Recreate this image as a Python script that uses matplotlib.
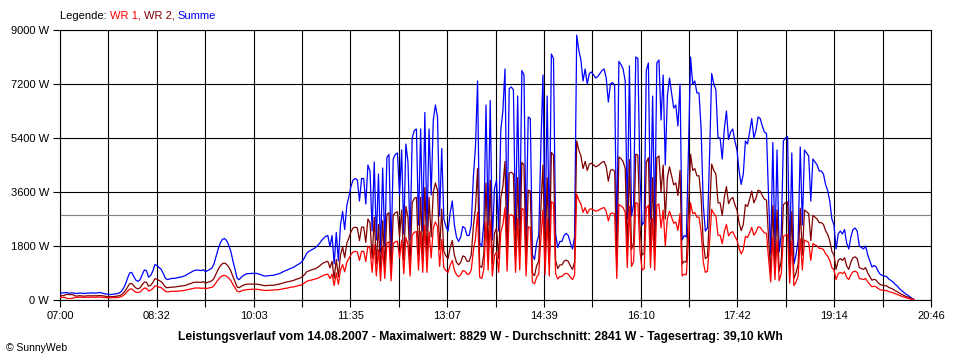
import matplotlib.pyplot as plt
import numpy as np

plt.rcParams['font.family'] = ['Liberation Sans', 'DejaVu Sans']

# Leistung alle 2 Minuten ab 07:00 (W)
summe = [
    200, 240, 240, 250, 230, 230, 240, 220, 220, 230,
    230, 220, 220, 230, 230, 240, 230, 230, 240, 250,
    230, 210, 200, 190, 180, 190, 200, 210, 230, 280,
    380, 520, 720, 900, 920, 780, 660, 620, 680, 850,
    1000, 980, 760, 820, 960, 1180, 1150, 1080, 1020, 880,
    720, 680, 700, 720, 720, 730, 750, 760, 780, 800,
    840, 880, 920, 960, 990, 1000, 990, 980, 1010, 940,
    980, 1020, 1060, 1200, 1450, 1700, 1900, 2020, 2050, 1980,
    1830, 1620, 1300, 1020, 720, 680, 760, 820, 860, 880,
    880, 890, 880, 890, 870, 850, 820, 800, 800, 810,
    820, 820, 840, 860, 880, 910, 950, 980, 1010, 1040,
    1070, 1100, 1150, 1190, 1230, 1300, 1420, 1560, 1620, 1660,
    1700, 1740, 1800, 1880, 1980, 2060, 2120, 2150, 1780, 2150,
    1200, 2250, 1300, 2500, 2950, 2350, 3150, 3450, 3800, 4000,
    4050, 4000, 3300, 4050, 4050, 3200, 4500, 4300, 2300, 4600,
    2000, 4200, 1600, 4400, 1800, 4750, 4850, 1600, 4700, 4850,
    4900, 3500, 5000, 2200, 5200, 4600, 2000, 5400, 5650, 5700,
    2500, 5700, 2300, 6250, 2300, 5700, 3500, 6000, 6500, 6100,
    2800, 5050, 2700, 2450, 2300, 2900, 3300, 2500, 2100, 1950,
    2100, 2450, 2400, 2150, 2150, 2500, 4100, 5100, 7300, 1900,
    1800, 2600, 6500, 2500, 6650, 2000, 3700, 4000, 2300, 5650,
    6300, 7700, 2400, 7050, 7100, 7000, 2300, 6800, 2500, 7650,
    7500, 2000, 6100, 6050, 1500, 1350, 1900, 2150, 5100, 7500,
    2100, 6800, 2000, 8200, 8050, 2200, 1750, 1950, 1950, 2150,
    2220, 2150, 1900, 1700, 2100, 8829, 8330, 8000, 7300, 7700,
    7200, 7550, 7600, 7500, 7400, 7450, 7550, 7650, 7700, 7400,
    6600, 7200, 7250, 7150, 1800, 7950, 7850, 7700, 7300, 2700,
    7800, 2800, 3200, 8100, 8050, 4100, 2500, 2600, 7650, 7900,
    2700, 6800, 2500, 7900, 8000, 6000, 7500, 4500, 6800, 7400,
    6900, 6400, 6500, 5800, 7200, 2000, 2150, 2100, 5000, 8100,
    7200, 7300, 6900, 6900, 5700, 3200, 2300, 2400, 4800, 7550,
    7200, 7000, 5400, 5400, 4700, 5700, 6300, 5350, 5600, 5700,
    5300, 5000, 4300, 3850, 4200, 5300, 5200, 5600, 6050, 5400,
    5650, 6100, 6050, 5800, 5600, 5550, 3400, 1500, 5250, 1700,
    5000, 1600, 2200, 5300, 5400, 5450, 1400, 4900, 1200, 1500,
    2000, 5100, 2500, 5000, 4900, 4800, 3300, 4700, 4600, 4500,
    4300, 4300, 4200, 3850, 3650, 3300, 2700, 2500, 1700, 2200,
    2300, 2200, 2350, 1900, 1700, 2100, 2350, 2400, 2300, 1800,
    1750, 1700, 1800, 1500, 1300, 1100, 1150, 1100, 950, 850,
    820, 800, 780, 700, 650, 600, 520, 470, 380, 320,
    260, 200, 160, 110, 50, 20,
]

wr1 = [
    80, 90, 90, 60, 50, 50, 60, 80, 90, 90,
    90, 90, 90, 90, 90, 100, 90, 90, 100, 100,
    90, 80, 80, 80, 70, 80, 80, 80, 90, 110,
    150, 210, 290, 360, 370, 310, 260, 250, 270, 340,
    400, 390, 300, 330, 380, 470, 460, 430, 410, 350,
    290, 270, 280, 290, 290, 290, 300, 300, 310, 320,
    340, 350, 370, 380, 400, 400, 400, 390, 400, 380,
    390, 410, 420, 480, 580, 680, 760, 810, 820, 790,
    730, 650, 520, 410, 290, 270, 300, 330, 340, 350,
    350, 360, 350, 360, 350, 340, 330, 320, 320, 320,
    330, 330, 340, 340, 350, 360, 380, 390, 400, 420,
    430, 440, 460, 480, 490, 520, 570, 620, 650, 660,
    680, 700, 720, 750, 790, 820, 850, 860, 710, 860,
    480, 900, 520, 1000, 1180, 940, 1260, 1380, 1520, 1600,
    1620, 1600, 1320, 1620, 1620, 1280, 1800, 1720, 920, 1840,
    800, 1680, 640, 1760, 720, 1900, 1940, 640, 1880, 1940,
    1960, 1400, 2000, 880, 2080, 1840, 800, 2160, 2260, 2280,
    1000, 2280, 920, 2500, 920, 2280, 1400, 2400, 2600, 2440,
    1120, 2020, 1080, 980, 920, 1160, 1320, 1000, 840, 780,
    840, 980, 960, 860, 860, 1000, 1640, 2040, 2920, 760,
    720, 1040, 2600, 1000, 2660, 800, 1480, 1600, 920, 2260,
    2520, 3080, 960, 2820, 2840, 2800, 920, 2720, 1000, 3060,
    3000, 800, 2440, 2420, 600, 540, 760, 860, 2040, 3000,
    840, 2720, 800, 3280, 3220, 880, 700, 780, 780, 860,
    890, 860, 760, 680, 840, 3530, 3330, 3200, 2920, 3080,
    2880, 3020, 3040, 3000, 2960, 2980, 3020, 3060, 3080, 2960,
    2640, 2880, 2900, 2860, 720, 3180, 3140, 3080, 2920, 1080,
    3120, 1120, 1280, 3240, 3220, 1640, 1000, 1040, 3060, 3160,
    1080, 2720, 1000, 3160, 3200, 2400, 3000, 1800, 2720, 2960,
    2760, 2560, 2600, 2320, 2880, 800, 860, 840, 2000, 3240,
    2880, 2920, 2760, 2760, 2280, 1280, 920, 960, 1920, 3020,
    2880, 2800, 2160, 2160, 1880, 2280, 2520, 2140, 2240, 2280,
    2120, 2000, 1720, 1540, 1680, 2120, 2080, 2240, 2420, 2160,
    2260, 2440, 2420, 2320, 2240, 2220, 1360, 600, 2100, 680,
    2000, 640, 880, 2120, 2160, 2180, 560, 1960, 480, 600,
    800, 2040, 1000, 2000, 1960, 1920, 1320, 1880, 1840, 1800,
    1720, 1720, 1680, 1540, 1460, 1320, 1080, 1000, 680, 880,
    920, 880, 940, 760, 680, 840, 940, 960, 920, 720,
    700, 680, 720, 600, 520, 440, 460, 440, 380, 340,
    330, 320, 310, 280, 260, 240, 210, 190, 150, 130,
    100, 80, 60, 40, 20, 10,
]

durchschnitt = 2841
y_ticks = [0, 1800, 3600, 5400, 7200, 9000]
x_labels = ['07:00', '', '08:32', '', '10:03', '', '11:35', '', '13:07', '',
            '14:39', '', '16:10', '', '17:42', '', '19:14', '', '20:46']
titel = ('Leistungsverlauf vom 14.08.2007 - Maximalwert: 8829 W - '
         'Durchschnitt: 2841 W - Tagesertrag: 39,10 kWh')

summe = np.array(summe)
wr1 = np.array(wr1)
wr2 = summe - wr1
minutes = np.arange(len(summe)) * 2

fig = plt.figure(figsize=(9.6, 3.6), dpi=100)
ax = fig.add_axes([60 / 960, 60 / 360, 871 / 960, 270 / 360])

ax.plot(minutes, summe, color='#0000ff', lw=0.9, zorder=3)
ax.plot(minutes, wr2, color='#800000', lw=0.9, zorder=4)
ax.plot(minutes, wr1, color='#ff0000', lw=0.9, zorder=5)
ax.axhline(durchschnitt, color='#808080', lw=0.8, zorder=2)

# axes, grid and ticks
ax.set_xlim(0, 826)
ax.set_ylim(0, 9000)
ax.set_xticks(np.linspace(0, 826, len(x_labels)))
ax.set_xticklabels(x_labels)
ax.set_yticks(y_ticks)
ax.set_yticklabels([f'{v} W' for v in y_ticks])
ax.grid(True, color='black', lw=0.8, zorder=1)
ax.set_axisbelow(True)
ax.tick_params(length=5, width=0.8, labelsize=8, pad=3)
for s in ax.spines.values():
    s.set_linewidth(0.8)

# legend as coloured text on top
t = fig.text(60 / 960, 1 - 16 / 360, 'Legende: ', fontsize=8, va='center')
for txt, col in [('WR 1, ', '#ff0000'), ('WR 2, ', '#800000'), ('Summe', '#0000ff')]:
    t = ax.annotate(txt, xy=(1, 0), xycoords=t, va='bottom', fontsize=8, color=col)

fig.text(480 / 960, 1 - 337 / 360, titel, fontsize=8.7, fontweight='bold',
         ha='center', va='center')
fig.text(6 / 960, 1 - 348 / 360, '\u00a9 SunnyWeb', fontsize=7.5, va='center')

fig.savefig('out.png', dpi=100, facecolor='white')
